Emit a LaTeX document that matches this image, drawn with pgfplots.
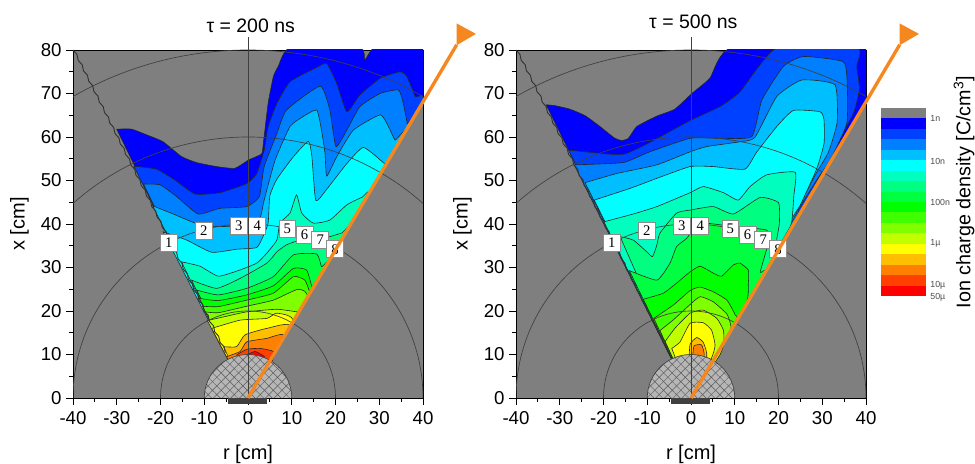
\documentclass[border=0pt]{standalone}
\usepackage{fontspec}
\setmainfont{Liberation Sans}
\newfontfamily\serifnum{Liberation Serif}
\usepackage{pgfplots}
\usepackage{pgfplotstable}
\pgfplotsset{compat=1.18}
\usetikzlibrary{patterns.meta}
\definecolor{Lg}{HTML}{7F7F7F}
\definecolor{La}{HTML}{0000FF}
\definecolor{Lb}{HTML}{0040FF}
\definecolor{Lc}{HTML}{0080FF}
\definecolor{Ld}{HTML}{00BFFF}
\definecolor{Le}{HTML}{00FFFF}
\definecolor{Lf}{HTML}{00FFBF}
\definecolor{Lh}{HTML}{00FF80}
\definecolor{Li}{HTML}{00FF40}
\definecolor{Lj}{HTML}{00FF00}
\definecolor{Lk}{HTML}{40FF00}
\definecolor{Ll}{HTML}{80FF00}
\definecolor{Lm}{HTML}{BFFF00}
\definecolor{Ln}{HTML}{FFFF00}
\definecolor{Lo}{HTML}{FFBF00}
\definecolor{Lp}{HTML}{FF8000}
\definecolor{Lq}{HTML}{FF4000}
\definecolor{Lr}{HTML}{FF0000}
\definecolor{orangeline}{HTML}{F5871F}
\pgfplotstableread{
r x
-40 80
-39.1 79
-38.8 77.6
-37.9 76.6
-37.6 75.2
-36.7 74.2
-36.4 72.8
-35.5 71.8
-35.2 70.4
-34.3 69.4
-34 68
-33.1 67
-32.8 65.6
-31.9 64.6
-31.6 63.2
-30.7 62.2
-30.4 60.8
-29.5 59.8
-29.2 58.4
-28.3 57.4
-28 56
-27.1 55
-26.8 53.6
-25.9 52.6
-25.6 51.2
-24.7 50.2
-24.4 48.8
-23.5 47.8
-23.2 46.4
-22.3 45.4
-22 44
-21.1 43
-20.8 41.6
-19.9 40.6
-19.6 39.2
-18.7 38.2
-18.4 36.8
-17.5 35.8
-17.2 34.4
-16.3 33.4
-16 32
-15.1 31
-14.8 29.6
-13.9 28.6
-13.6 27.2
-12.7 26.2
-12.4 24.8
-11.5 23.8
-11.2 22.4
-10.3 21.4
-10 20
-9.1 19
-8.8 17.6
-7.9 16.6
-7.6 15.2
-6.7 14.2
-6.4 12.8
-5.5 11.8
-5.2 10.4
}\zigzag
\pgfplotsset{
  panel/.style={
    scale only axis, width=262.5pt, height=261pt,
    xmin=-40, xmax=40, ymin=0, ymax=80,
    xtick={-40,-30,...,40}, ytick={0,10,...,80},
    minor x tick num=1, minor y tick num=1,
    tick align=outside, xtick pos=bottom, ytick pos=left,
    major tick length=5pt, minor tick length=3pt,
    tick style={black, line width=0.6pt},
    axis line style={line width=0.7pt},
    ticklabel style={font=\fontsize{14}{16}\selectfont},
    xticklabel shift=1.5pt,
    /pgf/number format/assume math mode=true,
    axis background/.style={fill=Lg},
    xlabel={r [cm]}, ylabel={x [cm]},
    label style={font=\fontsize{15}{17}\selectfont},
    xlabel style={at={(axis description cs:0.5,-0.162)},anchor=center},
    ylabel style={at={(axis description cs:-0.153,0.5)},anchor=center},
  },
  over/.style={
    scale only axis, width=262.5pt, height=261pt,
    xmin=-40, xmax=40, ymin=0, ymax=80,
    axis lines=none, clip=false,
  },
  cont/.style={draw=black!85, line width=0.45pt, fill=#1, smooth, tension=0.3},
}
\tikzset{
  arcline/.style={draw=black!75, line width=0.5pt},
  lab/.style={draw=black!45, fill=white, line width=0.5pt, minimum width=12.6pt, minimum height=12.8pt, inner sep=0pt, font=\serifnum\fontsize{11}{12}\selectfont},
}
\newcommand{\decor}{%
  \addplot[color=black!80, line width=0.7pt] table[x=r,y=x] {\zigzag};
  \fill[gray!50!white!95!black] (axis cs:0,0) ellipse [x radius=10, y radius=10];
  \fill[pattern={Lines[angle=45,distance=4.6pt,line width=0.35pt]},pattern color=black!65] (axis cs:0,0) ellipse [x radius=10, y radius=10];
  \fill[pattern={Lines[angle=-45,distance=4.6pt,line width=0.35pt]},pattern color=black!65] (axis cs:0,0) ellipse [x radius=10, y radius=10];
  \draw[arcline] (axis cs:0,0) ellipse [x radius=10, y radius=10];
  \draw[arcline] (axis cs:0,0) ellipse [x radius=20, y radius=20];
  \draw[arcline] (axis cs:0,0) ellipse [x radius=40, y radius=40];
  \draw[arcline] (axis cs:0,0) ellipse [x radius=60, y radius=60];
  \draw[arcline] (axis cs:0,0) ellipse [x radius=80, y radius=80];
  \node[lab] at (axis cs:-18.1,35.6) {1};
  \node[lab] at (axis cs:-10.1,38.4) {2};
  \node[lab] at (axis cs:-2.1,39.5) {3};
  \node[lab] at (axis cs:2.1,39.5) {4};
  \node[lab] at (axis cs:9.0,38.9) {5};
  \node[lab] at (axis cs:12.9,37.5) {6};
  \node[lab] at (axis cs:16.5,36.3) {7};
  \node[lab] at (axis cs:19.9,34.2) {8};
}
\newcommand{\overlaybits}{%
  \addplot[color=black!75, line width=0.6pt] coordinates {(0,0)(0,83)};
  \addplot[draw=none, fill=black!75] coordinates {(-4.5,0)(4.4,0)(4.4,-1.4)(-4.5,-1.4)} --cycle;
  \addplot[color=orangeline, line width=2.5pt] coordinates {(0,0)(47.7,81.2)};
  \addplot[draw=none, fill=orangeline] coordinates {(47.7,86.1)(52.1,83.7)(47.7,81.1)} --cycle;
}
\begin{document}
\begin{tikzpicture}
\useasboundingbox (0,0) rectangle (731.25pt,348pt);
% ---------- left panel
\begin{axis}[panel, at={(54.75pt,49.5pt)}, anchor=south west]
\addplot[cont=La] coordinates {(-30,61.8)(-26.6,61.8)(-23.2,60.5)(-19.4,58.9)(-15.2,55.5)(-11.7,54.1)(-7.2,53.2)(-3,52.8)(0.1,54.7)(3.1,56.1)(3.5,58.5)(4.6,67.7)(5.8,73.9)(6.9,76.2)(9.6,80.5)(25.6,80.5)(26.7,77.7)(29,80.5)(40.5,80.5)(40.5,69)(0,0)} --cycle;
\addplot[cont=Lb] coordinates {(-26.1,53.3)(-20.9,52.6)(-16.7,50.1)(-12.1,46.9)(-6.4,47.2)(-0.3,49.3)(2,51.6)(3.7,57)(4.6,62.4)(6.6,67.7)(9.6,72.7)(15.7,76)(18,76.9)(20.3,72.3)(22.6,65.8)(25.6,69.7)(30.2,73.5)(34.7,75)(36.3,73.9)(38.2,69.3)(38.8,66)(0,0)} --cycle;
\addplot[cont=Lc] coordinates {(-23.9,49.2)(-20.1,49)(-16.3,46.3)(-11.4,42.3)(-6.4,43.6)(-0.3,44)(2.6,46.3)(3.7,53.2)(6.6,60.8)(8.8,66.2)(16.5,71.7)(18.7,66.2)(20.1,57.8)(22.6,61.6)(25.6,67)(30.2,70)(34.4,70.8)(35.5,67.7)(36.4,63.1)(36.5,62.2)(0,0)} --cycle;
\addplot[cont=Ld] coordinates {(-21.8,44.2)(-17.1,42.3)(-11,39.8)(-6.4,39.4)(-0.3,39.8)(2.7,41.3)(3.7,45.5)(6.2,54.7)(9.6,62.4)(12.6,64.7)(15.7,66.2)(16.8,61.6)(17.6,56.2)(18,51)(20.3,55.5)(24.1,61.6)(30.2,65.1)(32.1,62.4)(33.6,59.3)(35,59.5)(0,0)} --cycle;
\addplot[cont=Le] coordinates {(-19.4,38.2)(-14,36.3)(-8.3,33.5)(-2.6,34.2)(2,34.6)(3.5,37.3)(4.6,40.2)(5,46.5)(6.6,50.3)(10.4,55.5)(13.8,59)(14.6,55.5)(15.5,45.4)(18,48)(22.6,53.9)(26.4,57.6)(31.3,53.8)(31.6,53.7)(0,0)} --cycle;
\addplot[cont=Lf] coordinates {(-15.2,31.3)(-11,30.3)(-6.8,28)(-2.2,29.3)(2,31)(4.3,33.3)(6.6,36.3)(7.3,40.2)(9.6,42.5)(11.1,46.7)(12.3,42.5)(14.9,40.2)(18.7,40.9)(22.6,44.4)(26,46.1)(26.6,45.5)(0,0)} --cycle;
\addplot[cont=Lh] coordinates {(-12.9,27.1)(-7.2,25.2)(-1.8,27.5)(4.3,31)(6.6,33.6)(8.8,35.2)(11.9,36.3)(17.2,36.7)(21.4,37.9)(22.2,37.9)(0,0)} --cycle;
\addplot[cont=Li] coordinates {(-11.7,24.8)(-6.8,23.7)(-0.3,25.2)(5.8,27.9)(10.4,32.9)(15.7,33.1)(16.8,30.2)(17.8,30.4)(0,0)} --cycle;
\addplot[cont=Lj] coordinates {(-11.1,22.9)(-6.8,22.4)(-0.3,23.7)(5.8,25.8)(10.4,29.8)(13.4,29.4)(14.6,25.6)(15.2,25.6)(0,0)} --cycle;
\addplot[cont=Lk] coordinates {(-10.4,21.1)(-6.8,21)(-0.3,22.5)(5.8,24.1)(10.4,27.9)(13,27.1)(14.2,24.1)(14.4,24.1)(0,0)} --cycle;
\addplot[cont=Ll] coordinates {(-9.8,19.8)(-6.8,19.6)(-0.3,21.1)(5.8,22.5)(11.5,25)(13.3,22.5)(0,0)} --cycle;
\addplot[cont=Lm] coordinates {(-9.3,17.8)(-4.9,18.8)(-0.3,19.8)(6.6,20.4)(11.3,19.8)(11.8,20.1)(0,0)} --cycle;
\addplot[cont=Ln] coordinates {(-8.3,16)(-1.8,17.9)(4.3,18.3)(6.6,19.5)(10.2,17.5)(0,0)} --cycle;
\addplot[cont=Lo] coordinates {(-5.6,11.8)(-2.6,11.8)(-0.7,14.5)(4.3,16)(9.6,16.4)(0,0)} --cycle;
\addplot[cont=Lp] coordinates {(-4.9,9.5)(-1.8,10.7)(-0.3,12.9)(4.3,13.7)(8.1,14.2)(0,0)} --cycle;
\addplot[cont=Lq] coordinates {(-2.6,9.9)(-0.3,11.2)(2.7,11.4)(5.8,10.7)(5.5,8.5)(0,0)} --cycle;
\addplot[cont=Lr] coordinates {(-0.7,9.7)(1.6,10.7)(3.5,9.7)(3.6,9)(0,0)} --cycle;
\decor
\end{axis}
\begin{axis}[over, at={(54.75pt,49.5pt)}, anchor=south west]
\overlaybits
\end{axis}
% ---------- right panel
\begin{axis}[panel, at={(387pt,49.5pt)}, anchor=south west]
\addplot[cont=La] coordinates {(-33.1,67.4)(-31.1,67.2)(-27.7,66.4)(-24.2,64.9)(-20.8,62.4)(-17.4,59.7)(-15.8,59.2)(-14.3,59.7)(-12.4,62.4)(-7.8,64.8)(-3.7,66.4)(0.2,70)(4.3,73.5)(9.3,80.5)(40.5,80.5)(40.5,69)(0,0)} --cycle;
\addplot[cont=Lb] coordinates {(-28,57)(-19.3,56.1)(-15.1,56.1)(-10.1,58.4)(-0.2,63.8)(6.6,67)(11.2,70.4)(19.6,80.5)(38,80.5)(37.9,76.2)(38.5,71)(37.1,65.4)(32.5,56.7)(29.5,51)(24.9,42.6)(0,0)} --cycle;
\addplot[cont=Lc] coordinates {(-26.7,53.6)(-20.8,53.8)(-15.1,54.2)(-9.4,56.6)(-0.2,59.7)(6.6,59.7)(13.9,60.1)(16.2,68.5)(21.1,76.2)(25.7,78.5)(34.8,77.3)(35.7,72.3)(35.6,63.1)(31.8,54.7)(28.7,50.1)(24.5,43.2)(23.4,40.4)(0,0)} --cycle;
\addplot[cont=Ld] coordinates {(-24.2,49.5)(-17,51.6)(-7.8,53.6)(-0.2,56.6)(3.6,57.8)(11.2,58.9)(14.6,59.9)(19.6,69.3)(25.3,73.1)(32.9,72)(33.4,63.4)(31.4,56.5)(28.3,51.1)(24.2,43.1)(23,40.4)(0,0)} --cycle;
\addplot[cont=Le] coordinates {(-22.1,45.5)(-13.9,48.2)(-7.8,50.5)(-0.2,53.2)(5.1,53.2)(12.3,52.6)(15,56.5)(19.6,62.4)(23.4,66.1)(29.5,65.8)(30.4,63.9)(30.4,58.5)(28.7,52.6)(24.9,44.2)(22.6,40.4)(0,0)} --cycle;
\addplot[cont=Lf] coordinates {(-19.9,40.5)(-13.2,42.3)(-7.8,44)(-0.2,47.2)(2.8,48.6)(7.4,47.2)(10.8,45.5)(13.5,48.6)(17.3,51.3)(23.8,51.9)(23.5,46.5)(23,40.4)(21.1,36.6)(0,0)} --cycle;
\addplot[cont=Lh] coordinates {(-16.2,37.1)(-13.2,36.3)(-10.1,33.6)(-8.8,32.5)(-7.8,35.2)(-7.1,37.9)(-3.3,42.5)(-0.2,43.2)(5.1,44)(9.7,42.3)(15.8,46.1)(20,44.9)(20.2,40.2)(19.6,36.6)(18.8,32.5)(0,0)} --cycle;
\addplot[cont=Li] coordinates {(-14.1,29.3)(-7.8,27.1)(-4.8,31)(-3.3,34.8)(-1,36.7)(2.1,40.2)(9.7,39.4)(17.3,38.6)(17.7,35.8)(15.8,28.9)(16.5,28.3)(0,0)} --cycle;
\addplot[cont=Lj] coordinates {(-10.9,22.7)(-6.3,24.1)(-3.3,26.4)(-0.2,29)(2.1,30.3)(5.1,28.7)(7,28)(9.7,30.6)(11.2,31)(13.1,29.4)(13.1,26.4)(12.3,21)(0,0)} --cycle;
\addplot[cont=Lk] coordinates {(-8.5,18.3)(-4,21.4)(-0.2,24.7)(2.1,25.5)(5.1,24.4)(8.2,22.5)(10.1,19.1)(10.2,17.4)(0,0)} --cycle;
\addplot[cont=Ll] coordinates {(-7.1,15.5)(-4,18)(-0.2,21.5)(2.1,23.3)(5.1,22.1)(8.2,19.3)(9.1,16.6)(8.5,14.2)(0,0)} --cycle;
\addplot[cont=Lm] coordinates {(-5.9,13)(-3.7,16)(-0.2,19.5)(2.8,20.2)(5.9,18.3)(7.4,15.6)(7.5,12.8)(6.6,9.9)(0,0)} --cycle;
\addplot[cont=Ln] coordinates {(-4.4,11.4)(-2.5,12.9)(-0.2,17.2)(2.8,17.3)(4.7,15.6)(5.5,12.2)(4.7,9.2)(0,0)} --cycle;
\addplot[cont=Lo] coordinates {(-0.4,9.7)(-0.2,12.4)(1.3,13.9)(2.8,12.8)(3.6,9.3)(0,0)} --cycle;
\addplot[cont=Lp] coordinates {(0.4,9.7)(0.7,12)(2.4,12.2)(3,9.3)(0,0)} --cycle;
\decor
\end{axis}
\begin{axis}[over, at={(387pt,49.5pt)}, anchor=south west]
\overlaybits
\end{axis}
% ---------- colour scale
\begin{axis}[scale only axis, width=33.75pt, height=141pt, at={(660.5pt,126pt)}, anchor=south west,
  xmin=0, xmax=1, ymin=0, ymax=18, axis lines=none, clip=false]
\addplot[draw=none,fill=Lg] coordinates {(0,17)(1,17)(1,18)(0,18)} --cycle;
\addplot[draw=none,fill=La] coordinates {(0,16)(1,16)(1,17)(0,17)} --cycle;
\addplot[draw=none,fill=Lb] coordinates {(0,15)(1,15)(1,16)(0,16)} --cycle;
\addplot[draw=none,fill=Lc] coordinates {(0,14)(1,14)(1,15)(0,15)} --cycle;
\addplot[draw=none,fill=Ld] coordinates {(0,13)(1,13)(1,14)(0,14)} --cycle;
\addplot[draw=none,fill=Le] coordinates {(0,12)(1,12)(1,13)(0,13)} --cycle;
\addplot[draw=none,fill=Lf] coordinates {(0,11)(1,11)(1,12)(0,12)} --cycle;
\addplot[draw=none,fill=Lh] coordinates {(0,10)(1,10)(1,11)(0,11)} --cycle;
\addplot[draw=none,fill=Li] coordinates {(0,9)(1,9)(1,10)(0,10)} --cycle;
\addplot[draw=none,fill=Lj] coordinates {(0,8)(1,8)(1,9)(0,9)} --cycle;
\addplot[draw=none,fill=Lk] coordinates {(0,7)(1,7)(1,8)(0,8)} --cycle;
\addplot[draw=none,fill=Ll] coordinates {(0,6)(1,6)(1,7)(0,7)} --cycle;
\addplot[draw=none,fill=Lm] coordinates {(0,5)(1,5)(1,6)(0,6)} --cycle;
\addplot[draw=none,fill=Ln] coordinates {(0,4)(1,4)(1,5)(0,5)} --cycle;
\addplot[draw=none,fill=Lo] coordinates {(0,3)(1,3)(1,4)(0,4)} --cycle;
\addplot[draw=none,fill=Lp] coordinates {(0,2)(1,2)(1,3)(0,3)} --cycle;
\addplot[draw=none,fill=Lq] coordinates {(0,1)(1,1)(1,2)(0,2)} --cycle;
\addplot[draw=none,fill=Lr] coordinates {(0,0)(1,0)(1,1)(0,1)} --cycle;
\foreach \yy/\tt in {17/1n,12.9/10n,9/100n,5/1µ,1/10µ,-0.1/50µ}{
  \edef\temp{\noexpand\node[anchor=west,inner sep=0pt,text=black!70,font=\noexpand\fontsize{6.6}{7}\noexpand\selectfont] at (axis cs:1.1,\yy) {\tt};}
  \temp
}
\end{axis}
% ---------- titles
\node[font=\fontsize{14.6}{16}\selectfont] at (188pt,328.5pt) {τ = 200 ns};
\node[font=\fontsize{14.6}{16}\selectfont] at (520pt,331.5pt) {τ = 500 ns};
\node[rotate=90,font=\fontsize{14.8}{16}\selectfont] at (723pt,204pt) {Ion charge density [C/cm\textsuperscript{3}]};
\end{tikzpicture}
\end{document}
